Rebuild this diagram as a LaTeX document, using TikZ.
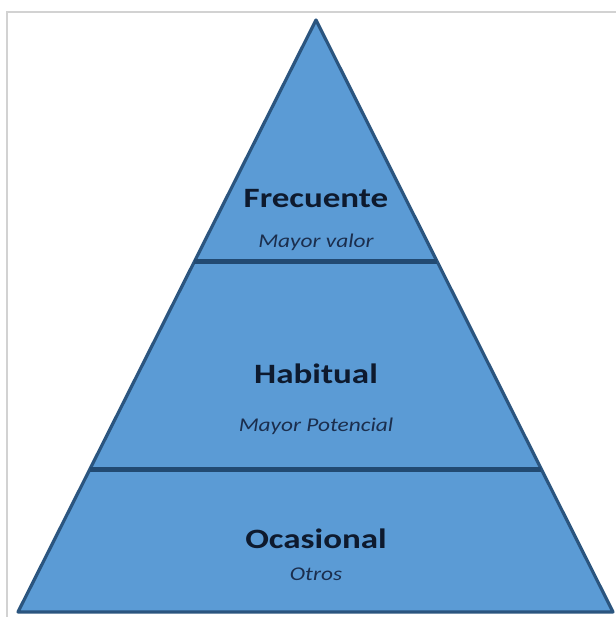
\documentclass[tikz,border=0pt]{standalone}
\usepackage{fontspec}
\usepackage{xcolor}
\usepackage{tikz}
\usetikzlibrary{calc}
\setmainfont{Carlito}
\newfontfamily\widefont{Carlito}[FakeStretch=1.25]
\newfontfamily\notefont{Carlito}[FakeStretch=1.2]
\definecolor{tiercol}{HTML}{5B9BD5}
\definecolor{edgecol}{HTML}{2B557F}
\definecolor{divcol}{HTML}{224A72}
\definecolor{textcol}{HTML}{0E1A2E}
\definecolor{notecol}{HTML}{1B2E4D}
\definecolor{framecol}{HTML}{D2D2D2}

\begin{document}
\begin{tikzpicture}[x=0.75pt,y=-0.75pt,
  tier/.style={fill=tiercol,draw=edgecol,line width=2.4pt,line join=round},
  divider/.style={draw=divcol,line width=3.6pt},
  title/.style={anchor=base,text=textcol,font=\widefont\fontsize{21}{24}\selectfont\bfseries},
  note/.style={anchor=base,text=notecol,font=\notefont\fontsize{14.6}{16}\selectfont\itshape}]
  \useasboundingbox[fill=white] (0,0) rectangle (616,617);
  % frame
  \draw[framecol,line width=1pt] (7,617) -- (7,12) -- (616,12);
  % pyramid
  \coordinate (apex) at (316,20);
  \coordinate (bl) at (18,612);
  \coordinate (br) at (613,612);
  \draw[tier] (apex) -- (br) -- (bl) -- cycle;
  \draw[divider] ($(apex)!0.408!(bl)$) -- ($(apex)!0.408!(br)$);
  \draw[divider] ($(apex)!0.759!(bl)$) -- ($(apex)!0.759!(br)$);
  % labels
  \node[title] (frec) at (316,207) {Frecuente};
  \node[note] (frecnote) at (316,247) {Mayor valor};
  \node[title] (habit) at (316,383) {Habitual};
  \node[note] (habitnote) at (316,431) {Mayor Potencial};
  \node[title] (ocas) at (316,548) {Ocasional};
  \node[note] (ocasnote) at (316,580) {Otros};
\end{tikzpicture}
\end{document}
